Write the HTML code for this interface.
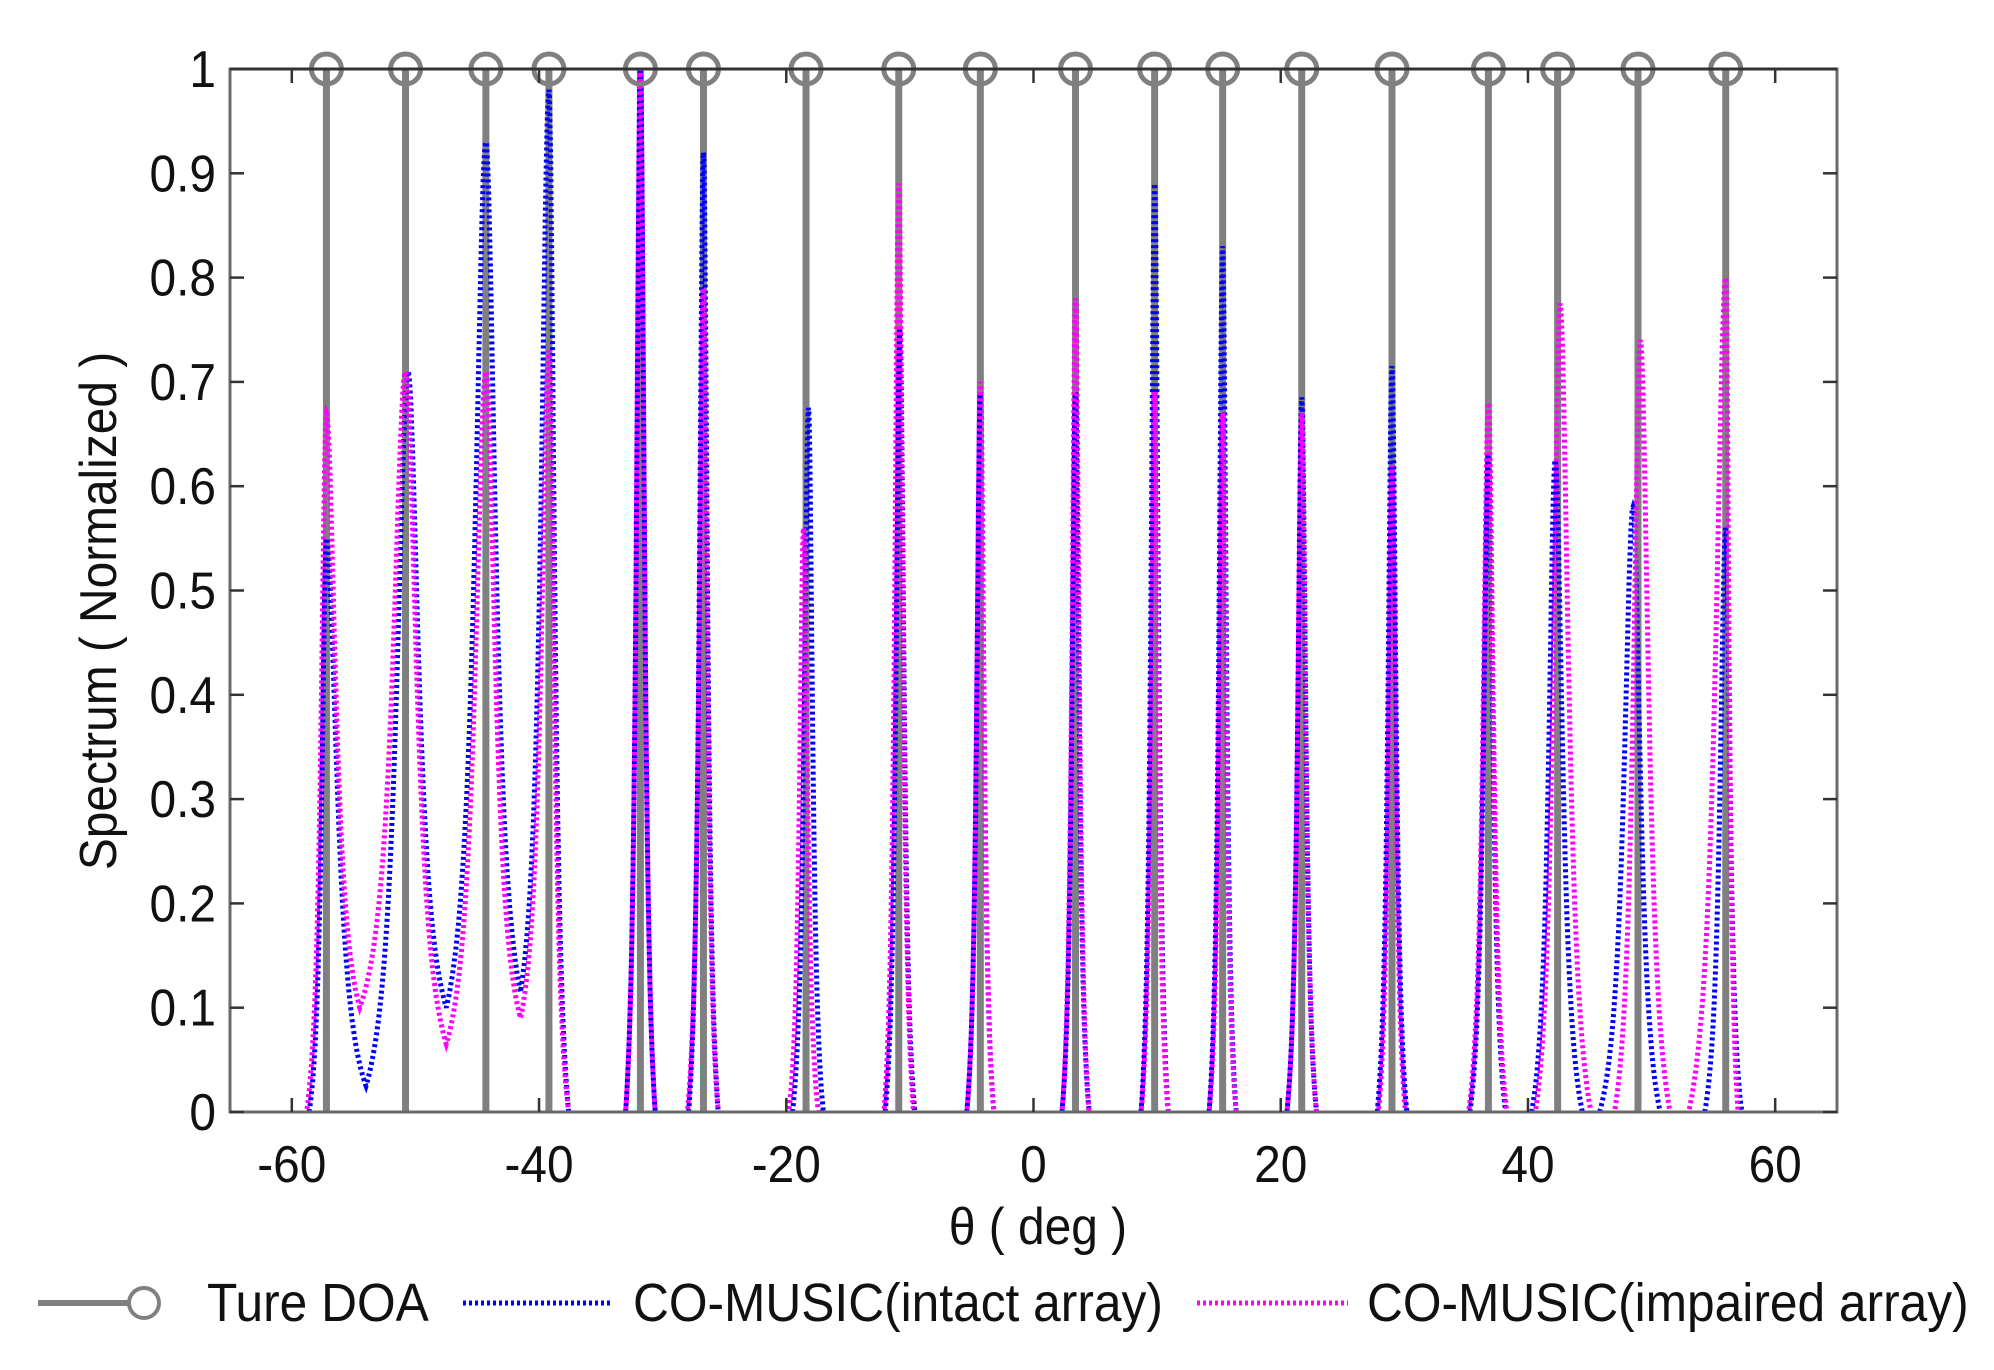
<!DOCTYPE html>
<html><head><meta charset="utf-8"><style>
body{margin:0;background:#fff;}
svg text{font-family:"Liberation Sans",Arial,sans-serif;fill:#111;}
</style></head><body>
<svg id="chart" width="1994" height="1365" viewBox="0 0 1994 1365" xmlns="http://www.w3.org/2000/svg">
<rect width="1994" height="1365" fill="#fff"/>
<g id="plot"></g>
<g id="axes"></g>
<g id="legend">
  <line x1="38" y1="1303" x2="128" y2="1303" stroke="#808080" stroke-width="6"/>
  <circle cx="144" cy="1303" r="15" fill="none" stroke="#808080" stroke-width="4"/>
  <text x="207" y="1321" font-size="54" transform="translate(207 0) scale(0.92 1) translate(-207 0)">Ture DOA</text>
  <line x1="463" y1="1303" x2="613" y2="1303" stroke="#0000ff" stroke-width="5" stroke-dasharray="3 3"/>
  <text x="633" y="1321" font-size="54" transform="translate(633 0) scale(0.92 1) translate(-633 0)">CO-MUSIC(intact array)</text>
  <line x1="1197" y1="1303" x2="1348" y2="1303" stroke="#ff00ff" stroke-width="5" stroke-dasharray="3 3"/>
  <text x="1367" y="1321" font-size="54" transform="translate(1367 0) scale(0.92 1) translate(-1367 0)">CO-MUSIC(impaired array)</text>
</g>
</svg>
<script>
// ---- data ----
const xTicks = [-60,-40,-20,0,20,40,60];
const yTicks = [0,0.1,0.2,0.3,0.4,0.5,0.6,0.7,0.8,0.9,1];
const yTickLabels = ["0","0.1","0.2","0.3","0.4","0.5","0.6","0.7","0.8","0.9","1"];
const trueDOA = [-57.2,-50.8,-44.3,-39.2,-31.8,-26.7,-18.4,-10.9,-4.3,3.4,9.8,15.3,21.7,29.0,36.8,42.4,48.9,56.0];
// intact: peak angle, height, left base angle, right base angle, left base value, right base value
const intactPeak = [-57.2,-50.6,-44.3,-39.2,-31.8,-26.7,-18.2,-10.8,-4.3,3.4,9.8,15.3,21.7,29.0,36.8,42.2,48.5,56.0];
const intactHeight = [0.55,0.71,0.93,0.98,1.0,0.92,0.675,0.75,0.69,0.69,0.89,0.83,0.685,0.715,0.63,0.625,0.58,0.56];
const intactLeft = [-58.6,-54.0,-47.5,-41.5,-33.0,-27.9,-19.5,-12.0,-5.4,2.3,8.7,14.2,20.5,27.8,35.3,40.3,45.8,54.3];
const intactRight = [-54.0,-47.5,-41.5,-37.6,-30.6,-25.5,-17.0,-9.6,-3.2,4.5,10.9,16.4,22.9,30.2,38.2,44.4,50.7,57.3];
const intactLeftVal = [0,0.025,0.10,0.115,0,0,0,0,0,0,0,0,0,0,0,0,0,0];
const intactRightVal = [0.025,0.10,0.115,0,0,0,0,0,0,0,0,0,0,0,0,0,0,0];
const impPeak = [-57.2,-50.8,-44.3,-39.2,-31.8,-26.7,-18.6,-10.9,-4.3,3.4,9.8,15.3,21.7,29.0,36.8,42.6,49.1,56.0];
const impHeight = [0.67,0.71,0.71,0.73,1.0,0.79,0.56,0.89,0.70,0.78,0.69,0.67,0.67,0.62,0.68,0.775,0.74,0.80];
const impLeft = [-58.8,-54.5,-47.5,-41.5,-33.0,-28.0,-19.8,-12.1,-5.4,2.3,8.7,14.2,20.5,27.9,35.2,40.6,47.0,53.0];
const impRight = [-54.5,-47.5,-41.5,-37.6,-30.6,-25.5,-17.4,-9.7,-3.2,4.5,10.9,16.4,22.9,30.1,38.3,45.1,51.5,57.0];
const impLeftVal = [0,0.10,0.065,0.09,0,0,0,0,0,0,0,0,0,0,0,0,0,0];
const impRightVal = [0.10,0.065,0.09,0,0,0,0,0,0,0,0,0,0,0,0,0,0,0];

// ---- axes functions ----
const X0=230,X1=1837,Y0=1112,Y1=69,XMIN=-65,XMAX=65;
const sx = v => X0 + (v-XMIN)/(XMAX-XMIN)*(X1-X0);
const sy = v => Y0 - v*(Y0-Y1);
const NS="http://www.w3.org/2000/svg";
function mk(tag, attrs, parent){const e=document.createElementNS(NS,tag);for(const k in attrs)e.setAttribute(k,attrs[k]);parent.appendChild(e);return e;}
const plot=document.getElementById('plot'), axes=document.getElementById('axes');

function shape(t){const k=3.0;const a=1/(1+k*k*t*t), b=1/(1+k*k);return (a-b)/(1-b);}
function buildPath(peak,h,L,R,LV,RV){
  let d='';
  for(let i=0;i<peak.length;i++){
    const pts=[];
    const N=60;
    for(let j=0;j<=N;j++){const x=L[i]+(peak[i]-L[i])*j/N;const t=(peak[i]-x)/(peak[i]-L[i]);pts.push([x,LV[i]+(h[i]-LV[i])*shape(t)]);}
    for(let j=1;j<=N;j++){const x=peak[i]+(R[i]-peak[i])*j/N;const t=(x-peak[i])/(R[i]-peak[i]);pts.push([x,RV[i]+(h[i]-RV[i])*shape(t)]);}
    const cont = i>0 && LV[i]>0;
    pts.forEach((p,j)=>{d+=((j===0&&!cont)?'M':'L')+sx(p[0]).toFixed(1)+' '+sy(p[1]).toFixed(1)+' ';});
  }
  return d;
}

trueDOA.forEach((a,i)=>{
  const l=mk('line',{x1:sx(a),x2:sx(a),y1:sy(0),y2:sy(1),stroke:'#808080','stroke-width':7},plot);
  
  
});
const pb=mk('path',{d:buildPath(intactPeak,intactHeight,intactLeft,intactRight,intactLeftVal,intactRightVal),fill:'none',stroke:'#0000ff','stroke-width':5,'stroke-dasharray':'3 3'},plot);


const pm=mk('path',{d:buildPath(impPeak,impHeight,impLeft,impRight,impLeftVal,impRightVal),fill:'none',stroke:'#ff00ff','stroke-width':5,'stroke-dasharray':'3 3','stroke-dashoffset':3},plot);



const box=mk('rect',{x:X0,y:Y1,width:X1-X0,height:Y0-Y1,fill:'none',stroke:'#6a6a6a','stroke-width':3},axes);


mk('line',{x1:X0,x2:X1,y1:Y1,y2:Y1,stroke:'#333','stroke-width':3},axes);
trueDOA.forEach(a=>{
  const c=mk('circle',{cx:sx(a),cy:sy(1),r:15,fill:'none',stroke:'#808080','stroke-width':5},plot);
  
  
});
xTicks.forEach(v=>{
  mk('line',{x1:sx(v),x2:sx(v),y1:Y0,y2:Y0-14,stroke:'#333','stroke-width':2.5},axes);
  mk('line',{x1:sx(v),x2:sx(v),y1:Y1,y2:Y1+14,stroke:'#333','stroke-width':2.5},axes);
  const t=mk('text',{x:sx(v),y:1182,'font-size':52,'text-anchor':'middle',transform:`translate(${sx(v)} 0) scale(0.92 1) translate(${-sx(v)} 0)`},axes);
  t.textContent=String(v);
  
  
});
yTicks.forEach((v,i)=>{
  mk('line',{x1:X0,x2:X0+14,y1:sy(v),y2:sy(v),stroke:'#333','stroke-width':2.5},axes);
  mk('line',{x1:X1,x2:X1-14,y1:sy(v),y2:sy(v),stroke:'#333','stroke-width':2.5},axes);
  const t=mk('text',{x:216,y:sy(v)+18,'font-size':52,'text-anchor':'end',transform:`translate(216 0) scale(0.92 1) translate(-216 0)`},axes);
  t.textContent=yTickLabels[i];
  
  
});
const xt=mk('text',{x:1038,y:1244,'font-size':52,'text-anchor':'middle',transform:'translate(1038 0) scale(0.92 1) translate(-1038 0)'},axes);
xt.textContent='θ ( deg )';


const yt=mk('text',{x:0,y:0,'font-size':52,'text-anchor':'middle',transform:'translate(116 611) rotate(-90) scale(0.92 1)'},axes);
yt.textContent='Spectrum ( Normalized )';


</script>
</body></html>
